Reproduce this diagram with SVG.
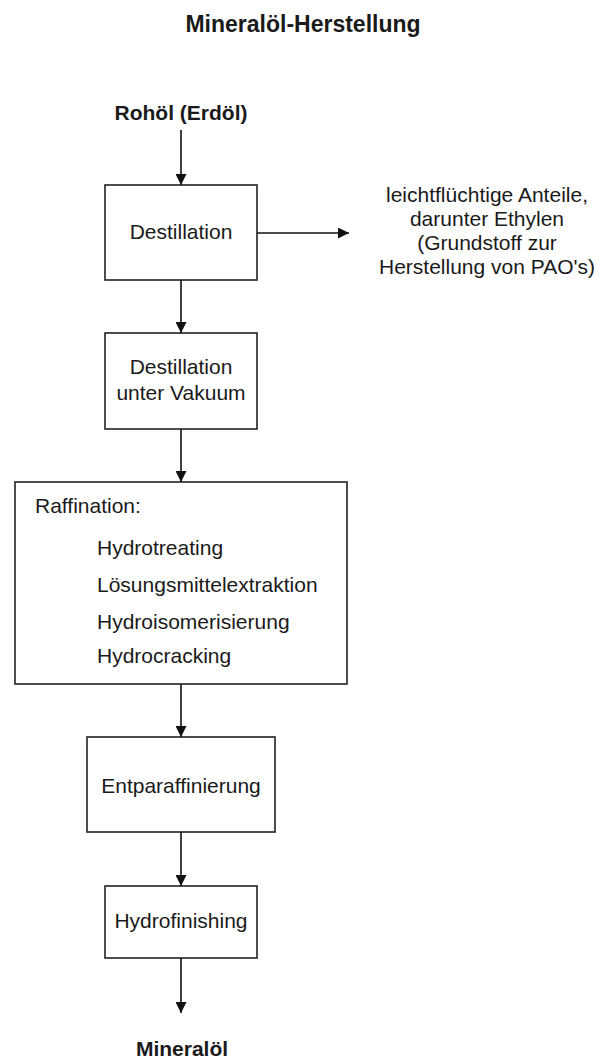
<svg xmlns="http://www.w3.org/2000/svg" width="606" height="1059" viewBox="0 0 606 1059">
<defs>
<style>
.t{font-family:"Liberation Sans",Arial,sans-serif;font-size:21px;fill:#1a1a1a}
.b{font-family:"Liberation Sans",Arial,sans-serif;font-weight:bold;fill:#1a1a1a}
.box{fill:#fff;stroke:#222;stroke-width:1.6}
.c{stroke:#111;stroke-width:1.6;fill:none;marker-end:url(#ah)}
</style>
<marker id="ah" viewBox="0 0 10 10" refX="10" refY="5" markerUnits="userSpaceOnUse" markerWidth="11" markerHeight="11" orient="auto">
<path d="M0,0 L10,5 L0,10 Z" fill="#111"/>
</marker>
</defs>
<rect width="606" height="1059" fill="#fff"/>
<text class="b" x="303" y="32" font-size="23" text-anchor="middle">Mineralöl-Herstellung</text>
<g id="start"><text class="b" x="181" y="120" font-size="21" text-anchor="middle">Rohöl (Erdöl)</text></g>
<g id="destillation"><rect class="box" x="105" y="185" width="152" height="95"/><text class="t" x="181" y="239" text-anchor="middle">Destillation</text></g>
<g id="leichtfluechtig"><text class="t" text-anchor="middle"><tspan x="487" y="202">leichtflüchtige Anteile,</tspan><tspan x="487" y="226">darunter Ethylen</tspan><tspan x="487" y="250">(Grundstoff zur</tspan><tspan x="487" y="274">Herstellung von PAO's)</tspan></text></g>
<g id="vakuum"><rect class="box" x="105" y="333" width="152" height="96"/><text class="t" text-anchor="middle"><tspan x="181" y="374">Destillation</tspan><tspan x="181" y="400">unter Vakuum</tspan></text></g>
<g id="raffination"><rect class="box" x="15" y="482" width="332" height="202"/><text class="t" x="35" y="513">Raffination:</text><text class="t" x="97" y="555">Hydrotreating</text><text class="t" x="97" y="592">Lösungsmittelextraktion</text><text class="t" x="97" y="629">Hydroisomerisierung</text><text class="t" x="97" y="663">Hydrocracking</text></g>
<g id="entparaffinierung"><rect class="box" x="87" y="737" width="188" height="95"/><text class="t" x="181" y="793" text-anchor="middle">Entparaffinierung</text></g>
<g id="hydrofinishing"><rect class="box" x="105" y="886" width="152" height="72"/><text class="t" x="181" y="928" text-anchor="middle">Hydrofinishing</text></g>
<g id="end"><text class="b" x="182" y="1056" font-size="21" text-anchor="middle">Mineralöl</text></g>
<g id="connectors">
<line class="c" x1="181" y1="130" x2="181" y2="185"/>
<line class="c" x1="257" y1="233" x2="349" y2="233"/>
<line class="c" x1="181" y1="280" x2="181" y2="333"/>
<line class="c" x1="181" y1="429" x2="181" y2="482"/>
<line class="c" x1="181" y1="684" x2="181" y2="737"/>
<line class="c" x1="181" y1="832" x2="181" y2="886"/>
<line class="c" x1="181" y1="958" x2="181" y2="1013"/>
</g>
</svg>
